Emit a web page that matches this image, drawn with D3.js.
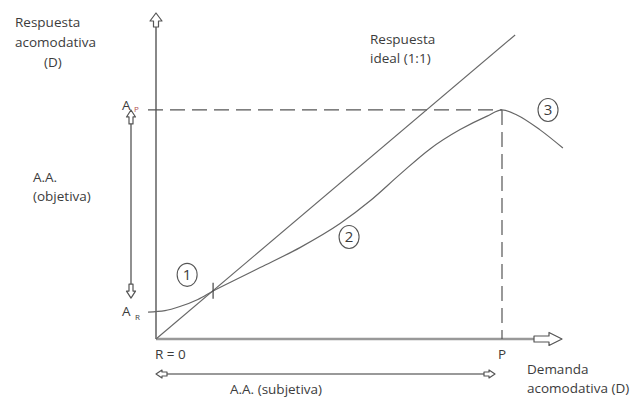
<!DOCTYPE html>
<html>
<head>
<meta charset="utf-8">
<script src="https://cdn.jsdelivr.net/npm/d3@7"></script>
<style>
  body { margin: 0; background: #fff; }
  svg { display: block; }
  text { font-family: "Open Sans", sans-serif; font-size: 13.5px; fill: #3c3c3c; }
</style>
</head>
<body>
<svg id="chart" width="644" height="398"></svg>
<script>
// datos: demanda acomodativa (x) vs respuesta acomodativa (y)
const demandP = 10;          // punto próximo P
const accR = 0.92;           // A_R
const accP = 7.82;           // A_P
const idealX = [0, 10.38];   // respuesta ideal 1:1
const curveX = [-0.23, 0.26, 0.69, 1.21, 1.65, 2.43, 3.01, 4.16, 5.32, 6.18, 7.05, 7.92, 8.79, 9.57, 10, 10.43, 11.1, 11.76];
const curveY = [0.92, 0.97, 1.11, 1.35, 1.64, 2.10, 2.44, 3.12, 3.94, 4.71, 5.62, 6.49, 7.15, 7.61, 7.82, 7.65, 7.14, 6.52];
const crossX = 1.65;         // cruce curva / ideal
const zoneLabels = ["1", "2", "3"];
const zoneX = [0.9, 5.58, 11.33];
const zoneY = [2.19, 3.48, 7.82];

const svg = d3.select("#chart");
const x = d3.scaleLinear().domain([0, 10]).range([156, 502]);
const y = d3.scaleLinear().domain([0, 10]).range([339, 46.1]);

// flecha hueca (tipo bloque), punta en (tx,ty), ángulo en grados
function blockArrow(tx, ty, angle, hl, hw, sw, sl) {
    const p = [[0, 0], [-hl, -hw], [-hl, -sw], [-hl - sl, -sw], [-hl - sl, sw], [-hl, sw], [-hl, hw]];
    svg.append("path")
        .attr("d", "M" + p.map(d => d.join(",")).join("L") + "Z")
        .attr("transform", `translate(${tx},${ty}) rotate(${angle})`)
        .attr("fill", "#fff")
        .attr("stroke", "#555")
        .attr("stroke-width", 1.2)
        .attr("stroke-linejoin", "round");
}

// ejes
svg.append("line")
    .attr("x1", x(0)).attr("y1", y(0)).attr("x2", x(0)).attr("y2", 27)
    .attr("stroke", "#888").attr("stroke-width", 2);
blockArrow(x(0), 13, -90, 8, 6, 2.5, 6);

svg.append("line")
    .attr("x1", x(0)).attr("y1", y(0)).attr("x2", 534).attr("y2", y(0))
    .attr("stroke", "#999").attr("stroke-width", 2.5);
blockArrow(562, y(0), 0, 13, 6.5, 3, 15);

// líneas discontinuas A_P y P
svg.append("line")
    .attr("x1", 148).attr("y1", y(accP)).attr("x2", x(demandP)).attr("y2", y(accP))
    .attr("stroke", "#555").attr("stroke-width", 1.2).attr("stroke-dasharray", "15,7");
svg.append("line")
    .attr("x1", x(demandP)).attr("y1", y(accP)).attr("x2", x(demandP)).attr("y2", y(0))
    .attr("stroke", "#555").attr("stroke-width", 1.2).attr("stroke-dasharray", "15,7");

// respuesta ideal
svg.append("line")
    .attr("x1", x(idealX[0])).attr("y1", y(idealX[0]))
    .attr("x2", x(idealX[1])).attr("y2", y(idealX[1]))
    .attr("stroke", "#666").attr("stroke-width", 1.1);

// curva de respuesta real
const line = d3.line()
    .x(d => x(d))
    .y((d, i) => y(curveY[i]))
    .curve(d3.curveMonotoneX);
svg.append("path")
    .attr("d", line(curveX))
    .attr("fill", "none")
    .attr("stroke", "#666")
    .attr("stroke-width", 1.2);

// marca en el cruce
svg.append("line")
    .attr("x1", x(crossX)).attr("x2", x(crossX))
    .attr("y1", y(crossX) - 8).attr("y2", y(crossX) + 8)
    .attr("stroke", "#444").attr("stroke-width", 1.2);

// flechas dobles A.A. objetiva / subjetiva
svg.append("line")
    .attr("x1", 131).attr("y1", y(accP) + 14).attr("x2", 131).attr("y2", y(accR) - 28)
    .attr("stroke", "#555").attr("stroke-width", 1.3);
blockArrow(131, y(accP), -90, 7, 4.5, 2, 7);
blockArrow(131, y(accR) - 14, 90, 7, 4.5, 2, 7);

svg.append("line")
    .attr("x1", x(0) + 10).attr("y1", 374).attr("x2", 486).attr("y2", 374)
    .attr("stroke", "#999").attr("stroke-width", 2.2);
blockArrow(x(0), 374, 180, 6, 4, 2, 5);
blockArrow(495, 374, 0, 6, 4, 2, 5);

// números en círculo
const zones = svg.selectAll(".zone").data(zoneLabels).enter().append("g")
    .attr("transform", (d, i) => `translate(${x(zoneX[i])},${y(zoneY[i])})`);
zones.append("ellipse")
    .attr("rx", 10).attr("ry", 11.5)
    .attr("fill", "#fff").attr("stroke", "#555").attr("stroke-width", 1.1);
zones.append("text")
    .attr("text-anchor", "middle").attr("dy", "0.36em")
    .style("font-size", "15px")
    .text(d => d);

// textos
function label(tx, ty, str, anchor, size) {
    const t = svg.append("text").attr("x", tx).attr("y", ty).text(str);
    if (anchor) t.attr("text-anchor", anchor);
    if (size) t.style("font-size", size);
    return t;
}
label(15, 27, "Respuesta");
label(15, 47, "acomodativa");
label(44, 67, "(D)");
label(33, 182, "A.A.");
label(33, 201, "(objetiva)");
label(370, 44, "Respuesta");
label(370, 63, "ideal (1:1)");
label(527, 374, "Demanda");
label(527, 393, "acomodativa (D)");
label(230, 394, "A.A. (subjetiva)");
label(155, 359, "R = 0");
label(x(demandP), 359, "P", "middle");

label(122, y(accR) + 4, "A");
label(135, y(accR) + 8, "R", null, "8px");
label(122, y(accP), "A");
label(134, y(accP) + 2, "P", null, "8px").style("fill", "#b05050");
</script>
</body>
</html>
